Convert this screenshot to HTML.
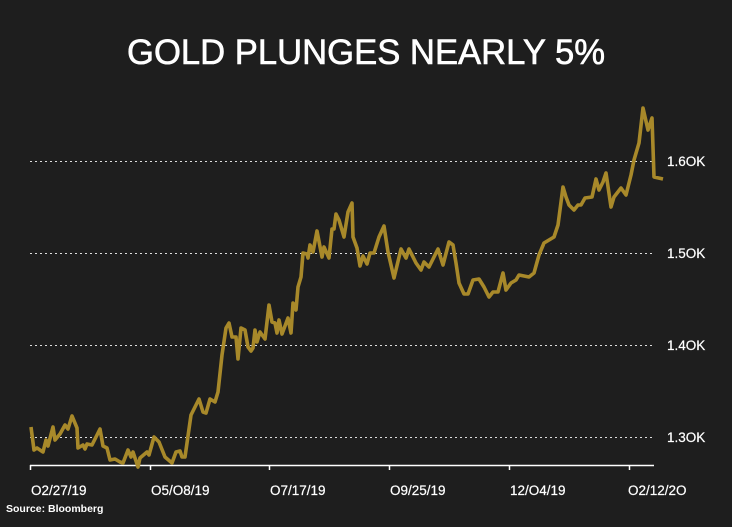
<!DOCTYPE html>
<html><head><style>
html,body{margin:0;padding:0;background:#1e1e1e;}
body{width:732px;height:527px;overflow:hidden;}
</style></head><body>
<svg width="732" height="527" xmlns="http://www.w3.org/2000/svg" style="display:block">
<rect width="732" height="527" fill="#1e1e1e"/>
<text x="366" y="64" text-anchor="middle" fill="#fff" stroke="#fff" stroke-width="0.6" font-family="Liberation Sans, sans-serif" font-size="35" textLength="478" lengthAdjust="spacingAndGlyphs">GOLD PLUNGES NEARLY 5%</text>
<g stroke="#ddd" stroke-width="1" stroke-dasharray="2,3">
<line x1="30" y1="161.5" x2="652" y2="161.5"/>
<line x1="30" y1="253.5" x2="652" y2="253.5"/>
<line x1="30" y1="345.5" x2="652" y2="345.5"/>
<line x1="30" y1="437.5" x2="652" y2="437.5"/>
</g>
<g fill="#fff" font-family="Liberation Sans, sans-serif" font-size="13.5" stroke="#fff" stroke-width="0.2">
<text x="667" y="166">1.6OK</text>
<text x="667" y="258">1.5OK</text>
<text x="667" y="350">1.4OK</text>
<text x="667" y="442">1.3OK</text>
<text x="31" y="495">O2/27/19</text>
<text x="151" y="495">O5/O8/19</text>
<text x="270" y="495">O7/17/19</text>
<text x="390" y="495">O9/25/19</text>
<text x="510" y="495">12/O4/19</text>
<text x="628" y="495">O2/12/2O</text>
</g>
<text x="6" y="512" fill="#fff" font-family="Liberation Sans, sans-serif" font-size="10.5" font-weight="bold">Source: Bloomberg</text>
<g stroke="#fff" stroke-width="1.5">
<line x1="30" y1="465.5" x2="654" y2="465.5"/>
<line x1="30.5" y1="465" x2="30.5" y2="470"/>
<line x1="150.5" y1="465" x2="150.5" y2="470"/>
<line x1="269.5" y1="465" x2="269.5" y2="470"/>
<line x1="389.5" y1="465" x2="389.5" y2="470"/>
<line x1="509.5" y1="465" x2="509.5" y2="470"/>
<line x1="629.5" y1="465" x2="629.5" y2="470"/>
</g>
<polyline fill="none" stroke="#a8892a" stroke-width="3.6" stroke-linejoin="round" points="31,427 34,450 37,448 43,452 46,440 48,446 53,427 55,440 60,434 65,425 68,429 72,416 77,428 78,448 83,445 85,449 87,444 92,445 100,429 103,446 107,448 110,460 115,459 120,462 123,463 128,450 131,457 133,452 138,467 140,458 147,452 149,455 154,437 159,442 165,457 172,463 176,452 180,451 182,457 185,457 191,415 199,399 203,412 206,413 210,399 215,402 218,392 222,355 226,328 229,323 232,337 236,337 238,359 241,328 245,330 248,347 251,351 253,348 255,330 257,342 260,332 265,339 269,305 272,322 275,323 277,333 279,320 282,334 288,318 291,333 293,303 296,310 298,287 301,277 303,253 307,254 308,258 310,245 313,252 317,231 322,257 324,247 329,258 332,229 334,229 336,214 339,220 344,237 348,212 352,203 353,237 357,248 360,266 363,256 367,264 370,253 374,253 379,237 384,226 388,252 394,278 401,249 406,258 409,249 416,263 421,270 424,262 429,267 438,249 443,265 449,242 453,245 456,263 459,283 464,294 468,294 473,280 479,279 484,287 489,297 493,292 498,292 503,273 506,290 511,283 516,280 519,275 529,277 534,273 539,255 544,243 549,240 554,237 558,225 563,187 566,197 569,205 574,210 578,205 581,205 585,198 592,197 596,179 599,190 603,182 606,173 611,207 614,197 621,188 626,195 631,175 634,160 639,143 643,108 648,130 652,118 654,177 663,179"/>
</svg>
</body></html>
